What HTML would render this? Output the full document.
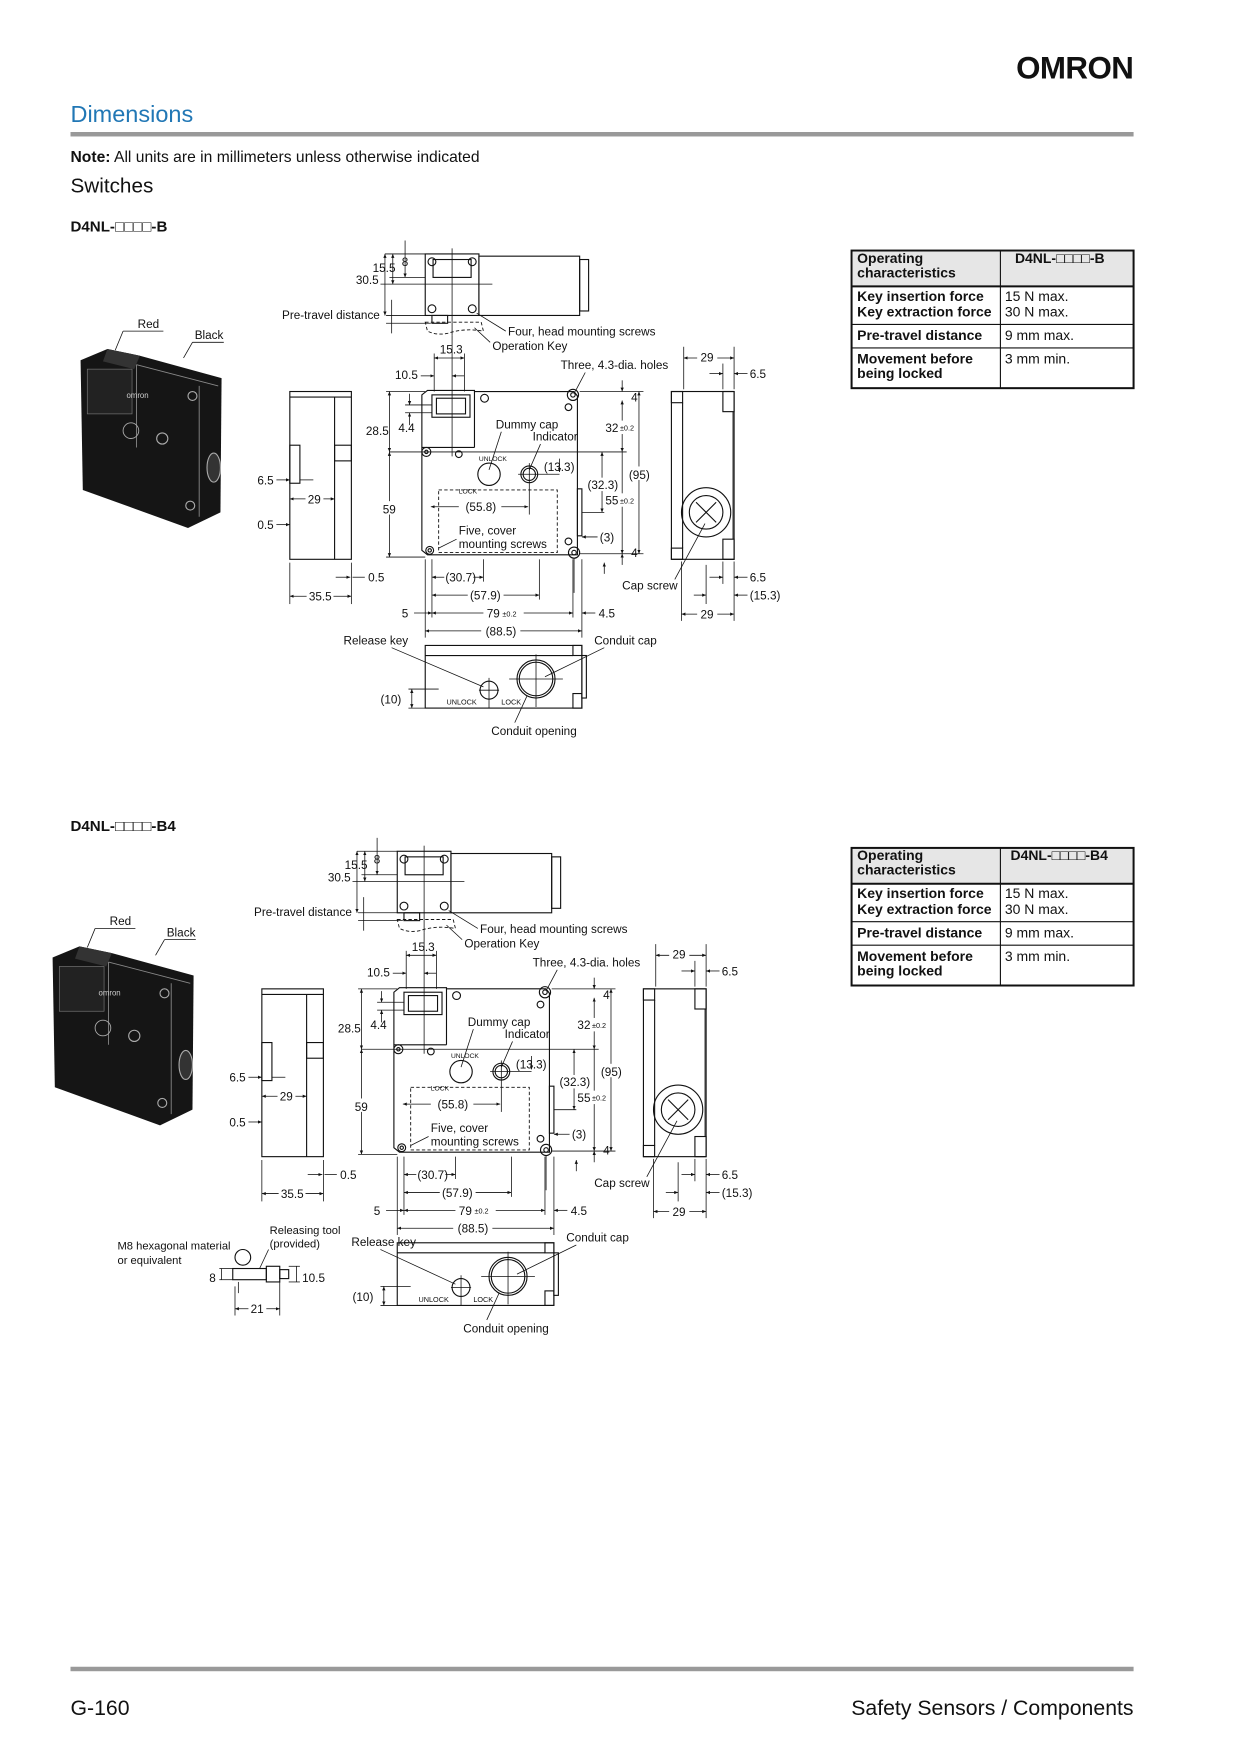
<!DOCTYPE html>
<html><head><meta charset="utf-8"><style>
html,body{margin:0;padding:0;background:#fff}
svg{display:block}
text{font-family:"Liberation Sans",sans-serif;fill:#111}
.d text{font-size:10.5px}
.ln{stroke:#111;stroke-width:1;fill:none}
.th{stroke:#111;stroke-width:0.7;fill:none}
.ds{stroke:#111;stroke-width:0.8;fill:none;stroke-dasharray:3 2}
</style></head><body>
<svg width="1241" height="1754" viewBox="0 0 1109 1568" preserveAspectRatio="none" xmlns="http://www.w3.org/2000/svg">
<defs>
<marker id="a" viewBox="0 0 6 6" refX="6" refY="3" markerWidth="5" markerHeight="5" orient="auto-start-reverse"><path d="M0,0.5 L6,3 L0,5.5z" fill="#111"/></marker>
<g id="diag" class="d">
 <!-- photo -->
 <polygon points="72,322 96,312 125,318 198,338 197,458 168,472 74,438" fill="#151515"/>
 <polygon points="96,312 125,318 120,330 92,323" fill="#333"/>
 <rect x="78" y="330" width="40" height="40" fill="#222" stroke="#777" stroke-width="0.6"/>
 <line x1="122" y1="326" x2="122" y2="400" stroke="#888" stroke-width="0.8"/>
 <line x1="122" y1="326" x2="195" y2="345" stroke="#888" stroke-width="0.8"/>
 <line x1="178" y1="345" x2="178" y2="462" stroke="#888" stroke-width="0.8"/>
 <text x="113" y="356" style="font-size:7px;fill:#ccc">omron</text>
 <circle cx="117" cy="385" r="7" fill="none" stroke="#aaa" stroke-width="0.8"/>
 <circle cx="145" cy="392" r="5" fill="none" stroke="#aaa" stroke-width="1"/>
 <ellipse cx="191" cy="418" rx="6" ry="13" fill="#333" stroke="#aaa" stroke-width="1"/>
 <circle cx="172" cy="354" r="4" fill="none" stroke="#aaa"/>
 <circle cx="170" cy="452" r="4" fill="none" stroke="#aaa"/>
 <text x="123" y="293">Red</text><line class="th" x1="110" y1="296" x2="146" y2="296"/><line class="th" x1="110" y1="296" x2="103" y2="313"/>
 <text x="174" y="303">Black</text><line class="th" x1="172" y1="306" x2="200" y2="306"/><line class="th" x1="172" y1="306" x2="164" y2="320"/>
 <!-- top view -->
 <rect class="ln" x="380" y="227" width="48" height="55"/>
 <rect class="ln" x="428" y="229" width="90" height="53"/>
 <rect class="ln" x="518" y="232" width="8" height="46"/>
 <rect class="ln" x="387" y="232" width="34" height="16"/>
 <rect class="ln" x="386" y="282" width="14" height="7"/>
 <circle class="ln" cx="386" cy="234" r="3.5"/><circle class="ln" cx="422" cy="234" r="3.5"/>
 <circle class="ln" cx="386" cy="276" r="3.5"/><circle class="ln" cx="422" cy="276" r="3.5"/>
 <path class="ds" d="M380,288 L430,288 L432,296 Q415,293 400,298 Q390,300 382,296 Z"/>
 <line class="th" x1="404" y1="222" x2="404" y2="300"/>
 <line class="th" x1="344" y1="227" x2="380" y2="227"/><line class="th" x1="348" y1="248" x2="380" y2="248"/><line class="th" x1="340" y1="254" x2="440" y2="254"/>
 <line class="th" x1="362" y1="215" x2="362" y2="248" marker-end="url(#a)"/>
 <line class="th" x1="351" y1="227" x2="351" y2="254" marker-start="url(#a)" marker-end="url(#a)"/>
 <line class="th" x1="344" y1="227" x2="344" y2="282" marker-start="url(#a)" marker-end="url(#a)"/>
 <text x="359" y="238">8</text><text x="333" y="243">15.5</text><text x="318" y="254">30.5</text>
 <line class="th" x1="345" y1="282" x2="385" y2="282"/><line class="th" x1="345" y1="289" x2="385" y2="289"/>
 <line class="th" x1="350" y1="268" x2="350" y2="298"/>
 <text x="252" y="285">Pre-travel distance</text>
 <line class="th" x1="426" y1="280" x2="452" y2="296"/><text x="454" y="300">Four, head mounting screws</text>
 <line class="th" x1="424" y1="293" x2="438" y2="306"/><text x="440" y="313">Operation Key</text>
 <!-- left side view -->
 <rect class="ln" x="259" y="350" width="55" height="150"/>
 <line class="ln" x1="259" y1="355" x2="314" y2="355"/>
 <line class="ln" x1="299" y1="355" x2="299" y2="500"/>
 <rect class="ln" x="299" y="398" width="15" height="14"/>
 <rect class="ln" x="259" y="398" width="9" height="34"/>
 <line class="th" x1="247" y1="429" x2="259" y2="429" marker-end="url(#a)"/><line class="th" x1="268" y1="429" x2="280" y2="429"/>
 <text x="230" y="433">6.5</text>
 <line class="th" x1="259" y1="446" x2="299" y2="446" marker-start="url(#a)" marker-end="url(#a)"/>
 <rect x="273" y="440" width="16" height="12" fill="#fff"/><text x="275" y="450">29</text>
 <line class="th" x1="247" y1="469" x2="259" y2="469" marker-end="url(#a)"/><text x="230" y="473">0.5</text>
 <line class="th" x1="259" y1="503" x2="259" y2="540"/><line class="th" x1="314" y1="503" x2="314" y2="540"/>
 <line class="th" x1="300" y1="516" x2="313" y2="516" marker-end="url(#a)"/><line class="th" x1="326" y1="516" x2="315" y2="516"/>
 <text x="329" y="520">0.5</text>
 <line class="th" x1="259" y1="533" x2="314" y2="533" marker-start="url(#a)" marker-end="url(#a)"/>
 <rect x="274" y="527" width="24" height="12" fill="#fff"/><text x="276" y="537">35.5</text>
 <!-- front view -->
 <path class="ln" d="M382,349 L424,349 L424,350 L513,350 L516,354 L516,496 L382,496 L377,492 L377,353 Z"/>
 <line class="ln" x1="424" y1="350" x2="424" y2="400"/>
 <line class="ln" x1="377" y1="400" x2="424" y2="400"/>
 <rect class="ln" x="386" y="353" width="34" height="20"/>
 <rect class="ln" x="390" y="356" width="26" height="14"/>
 <line class="th" x1="404" y1="300" x2="404" y2="408"/>
 <circle class="ln" cx="512" cy="353" r="5"/><circle class="ln" cx="512" cy="353" r="2"/>
 <circle class="ln" cx="381" cy="404" r="4"/><circle class="ln" cx="381" cy="404" r="1.5"/>
 <circle class="ln" cx="513" cy="494" r="5"/><circle class="ln" cx="513" cy="494" r="2"/>
 <circle class="ln" cx="384" cy="492" r="3.5"/><circle class="ln" cx="384" cy="492" r="1.5"/>
 <circle class="ln" cx="433" cy="356" r="3.5"/><circle class="ln" cx="508" cy="364" r="3"/>
 <circle class="ln" cx="410" cy="406" r="3"/><circle class="ln" cx="508" cy="484" r="3"/>
 <circle class="ln" cx="437" cy="424" r="10"/>
 <circle class="ln" cx="473" cy="424" r="7.5"/><circle class="ln" cx="473" cy="424" r="5.5"/>
 <line class="th" x1="463" y1="424" x2="500" y2="424"/><line class="th" x1="473" y1="414" x2="473" y2="460"/>
 <rect class="ds" x="392" y="438" width="106" height="56"/>
 <rect class="ln" x="516" y="437" width="4" height="42"/>
 <text x="428" y="412" style="font-size:6px">UNLOCK</text><text x="410" y="441" style="font-size:6px">LOCK</text>
 <text x="443" y="383">Dummy cap</text><line class="th" x1="448" y1="386" x2="437" y2="420"/>
 <text x="476" y="394">Indicator</text><line class="th" x1="483" y1="397" x2="473" y2="420"/>
 <line class="th" x1="500" y1="410" x2="500" y2="422" marker-end="url(#a)"/><text x="486" y="421">(13.3)</text>
 <line class="th" x1="385" y1="453" x2="410" y2="453" marker-start="url(#a)"/><line class="th" x1="448" y1="453" x2="472" y2="453" marker-end="url(#a)"/>
 <text x="416" y="457">(55.8)</text>
 <text x="410" y="478">Five, cover</text><text x="410" y="490">mounting screws</text>
 <line class="th" x1="408" y1="482" x2="392" y2="490"/>
 <text x="501" y="330">Three, 4.3-dia. holes</text><line class="th" x1="523" y1="333" x2="514" y2="350"/>
 <!-- front right dims -->
 <line class="th" x1="518" y1="350" x2="575" y2="350"/><line class="th" x1="348" y1="404" x2="560" y2="404"/><line class="th" x1="518" y1="495" x2="575" y2="495"/>
 <line class="th" x1="556" y1="340" x2="556" y2="350" marker-end="url(#a)"/><line class="th" x1="556" y1="358" x2="556" y2="404" marker-start="url(#a)" marker-end="url(#a)"/>
 <line class="th" x1="556" y1="404" x2="556" y2="495" marker-end="url(#a)"/>
 <line class="th" x1="556" y1="505" x2="556" y2="495" marker-end="url(#a)"/>
 <line class="th" x1="571" y1="350" x2="571" y2="495" marker-start="url(#a)" marker-end="url(#a)"/>
 <rect x="560" y="417" width="22" height="12" fill="#fff"/><text x="562" y="428">(95)</text>
 <text x="564" y="359">4</text><text x="564" y="498">4</text>
 <rect x="540" y="376" width="28" height="12" fill="#fff"/><text x="541" y="386">32</text><text x="554" y="385" style="font-size:6.5px">±0.2</text>
 <line class="th" x1="520" y1="458" x2="540" y2="458"/>
 <line class="th" x1="538" y1="404" x2="538" y2="458" marker-start="url(#a)" marker-end="url(#a)"/>
 <rect x="524" y="427" width="30" height="12" fill="#fff"/><text x="525" y="437">(32.3)</text>
 <rect x="540" y="441" width="30" height="12" fill="#fff"/><text x="541" y="451">55</text><text x="554" y="450" style="font-size:6.5px">±0.2</text>
 <line class="th" x1="534" y1="480" x2="520" y2="480" marker-end="url(#a)"/><text x="536" y="484">(3)</text>
 <!-- front left dims -->
 <line class="th" x1="345" y1="350" x2="380" y2="350"/><line class="th" x1="345" y1="498" x2="380" y2="498"/>
 <line class="th" x1="348" y1="350" x2="348" y2="404" marker-start="url(#a)" marker-end="url(#a)"/>
 <line class="th" x1="348" y1="404" x2="348" y2="498" marker-start="url(#a)" marker-end="url(#a)"/>
 <text x="327" y="389">28.5</text><rect x="340" y="448" width="14" height="12" fill="#fff"/><text x="342" y="459">59</text>
 <line class="th" x1="362" y1="362" x2="386" y2="362"/><line class="th" x1="362" y1="369" x2="386" y2="369"/>
 <line class="th" x1="366" y1="352" x2="366" y2="362" marker-end="url(#a)"/><line class="th" x1="366" y1="380" x2="366" y2="369" marker-end="url(#a)"/>
 <text x="356" y="386">4.4</text>
 <line class="th" x1="388" y1="316" x2="388" y2="350"/><line class="th" x1="415" y1="316" x2="415" y2="350"/>
 <line class="th" x1="388" y1="320" x2="415" y2="320" marker-start="url(#a)" marker-end="url(#a)"/><text x="393" y="316">15.3</text>
 <line class="th" x1="376" y1="336" x2="388" y2="336" marker-end="url(#a)"/><line class="th" x1="415" y1="336" x2="404" y2="336" marker-end="url(#a)"/>
 <text x="353" y="339">10.5</text>
 <!-- front bottom dims -->
 <line class="th" x1="380" y1="500" x2="380" y2="570"/><line class="th" x1="386" y1="500" x2="386" y2="552"/>
 <line class="th" x1="432" y1="500" x2="432" y2="520"/><line class="th" x1="482" y1="500" x2="482" y2="536"/>
 <line class="th" x1="512" y1="500" x2="512" y2="552"/><line class="th" x1="520" y1="500" x2="520" y2="570"/>
 <line class="th" x1="386" y1="516" x2="397" y2="516" marker-start="url(#a)"/><line class="th" x1="423" y1="516" x2="432" y2="516" marker-end="url(#a)"/><text x="398" y="520">(30.7)</text>
 <line class="th" x1="386" y1="532" x2="418" y2="532" marker-start="url(#a)"/><line class="th" x1="450" y1="532" x2="482" y2="532" marker-end="url(#a)"/><text x="420" y="536">(57.9)</text>
 <line class="th" x1="370" y1="548" x2="386" y2="548" marker-end="url(#a)"/><text x="359" y="552">5</text>
 <line class="th" x1="386" y1="548" x2="432" y2="548" marker-start="url(#a)"/><line class="th" x1="468" y1="548" x2="512" y2="548" marker-end="url(#a)"/>
 <text x="435" y="552">79</text><text x="449" y="551" style="font-size:6.5px">±0.2</text>
 <line class="th" x1="532" y1="548" x2="520" y2="548" marker-end="url(#a)"/><text x="535" y="552">4.5</text>
 <line class="th" x1="380" y1="564" x2="430" y2="564" marker-start="url(#a)"/><line class="th" x1="465" y1="564" x2="520" y2="564" marker-end="url(#a)"/><text x="434" y="568">(88.5)</text>
 <line class="th" x1="513" y1="499" x2="513" y2="530"/><line class="th" x1="540" y1="513" x2="540" y2="503" marker-end="url(#a)"/>
 <!-- right side view -->
 <rect class="ln" x="600" y="350" width="56" height="150"/>
 <rect class="ln" x="600" y="350" width="10" height="10"/><rect class="ln" x="600" y="490" width="10" height="10"/>
 <line class="ln" x1="610" y1="360" x2="610" y2="490"/>
 <rect class="ln" x="646" y="350" width="10" height="18"/><rect class="ln" x="646" y="482" width="10" height="18"/>
 <line class="th" x1="655" y1="368" x2="655" y2="482"/>
 <circle class="ln" cx="631" cy="458" r="22"/><circle class="ln" cx="631" cy="458" r="15"/>
 <path class="ln" d="M622,449 L640,467 M640,449 L622,467"/>
 <line class="th" x1="611" y1="310" x2="611" y2="348"/><line class="th" x1="656" y1="310" x2="656" y2="348"/>
 <line class="th" x1="611" y1="320" x2="656" y2="320" marker-start="url(#a)" marker-end="url(#a)"/><rect x="623" y="314" width="18" height="12" fill="#fff"/><text x="626" y="323">29</text>
 <line class="th" x1="646" y1="325" x2="646" y2="348"/>
 <line class="th" x1="634" y1="334" x2="646" y2="334" marker-end="url(#a)"/><line class="th" x1="668" y1="334" x2="656" y2="334" marker-end="url(#a)"/><text x="670" y="338">6.5</text>
 <line class="th" x1="609" y1="502" x2="609" y2="555"/><line class="th" x1="656" y1="502" x2="656" y2="555"/><line class="th" x1="646" y1="502" x2="646" y2="522"/><line class="th" x1="631" y1="505" x2="631" y2="540"/>
 <line class="th" x1="634" y1="516" x2="646" y2="516" marker-end="url(#a)"/><line class="th" x1="668" y1="516" x2="656" y2="516" marker-end="url(#a)"/><text x="670" y="520">6.5</text>
 <line class="th" x1="620" y1="532" x2="631" y2="532" marker-end="url(#a)"/><line class="th" x1="668" y1="532" x2="656" y2="532" marker-end="url(#a)"/><text x="670" y="536">(15.3)</text>
 <line class="th" x1="609" y1="549" x2="656" y2="549" marker-start="url(#a)" marker-end="url(#a)"/><rect x="623" y="543" width="18" height="12" fill="#fff"/><text x="626" y="553">29</text>
 <text x="556" y="527">Cap screw</text><line class="th" x1="603" y1="518" x2="630" y2="468"/>
 <!-- bottom view -->
 <rect class="ln" x="380" y="577" width="140" height="56"/>
 <line class="ln" x1="380" y1="586" x2="512" y2="586"/><rect class="ln" x="512" y="577" width="8" height="9"/><rect class="ln" x="512" y="620" width="8" height="13"/>
 <rect class="ln" x="520" y="586" width="4" height="38"/>
 <circle class="ln" cx="479" cy="607" r="17"/><circle class="ln" cx="479" cy="607" r="15"/>
 <line class="th" x1="455" y1="607" x2="503" y2="607"/><line class="th" x1="479" y1="585" x2="479" y2="632"/>
 <circle class="ln" cx="437" cy="617" r="8"/><line class="th" x1="428" y1="617" x2="446" y2="617"/><line class="th" x1="437" y1="606" x2="437" y2="633"/>
 <text x="399" y="630" style="font-size:6.5px">UNLOCK</text><text x="448" y="630" style="font-size:6.5px">LOCK</text>
 <text x="531" y="576">Conduit cap</text><line class="th" x1="540" y1="579" x2="487" y2="605"/>
 <text x="439" y="657">Conduit opening</text><line class="th" x1="460" y1="646" x2="471" y2="622"/>
 <line class="th" x1="365" y1="616" x2="392" y2="616"/><line class="th" x1="365" y1="633" x2="380" y2="633"/>
 <line class="th" x1="368" y1="616" x2="368" y2="633" marker-start="url(#a)" marker-end="url(#a)"/><text x="340" y="629">(10)</text>
</g>
</defs>

<text x="908" y="70" style="font-size:28px;font-weight:bold;letter-spacing:-0.5px">OMRON</text>
<text x="63" y="109" style="font-size:21px;fill:#2177b5">Dimensions</text>
<rect x="63" y="118" width="950" height="4" fill="#999"/>
<text x="63" y="145" style="font-size:14px"><tspan font-weight="bold">Note:</tspan> All units are in millimeters unless otherwise indicated</text>
<text x="63" y="172" style="font-size:18.5px">Switches</text>
<text x="63" y="207" style="font-size:13.5px;font-weight:bold">D4NL-□□□□-B</text>

<use href="#diag"/>
<g class="d"><text x="307" y="576">Release key</text><line class="th" x1="350" y1="579" x2="432" y2="614"/></g>
<g transform="translate(-25,534)"><use href="#diag"/></g>
<g class="d"><text x="314" y="1114">Release key</text><line class="th" x1="340" y1="1117" x2="407" y2="1148"/></g>
<text x="63" y="743" style="font-size:13.5px;font-weight:bold">D4NL-□□□□-B4</text>

<!-- tables -->
<g style="font-size:12.5px">
 <rect x="761" y="224" width="252" height="123" fill="#fff" stroke="#111" stroke-width="1.8"/>
 <rect x="762" y="225" width="250" height="31" fill="#e6e6e6"/>
 <line x1="761" y1="256" x2="1013" y2="256" stroke="#111" stroke-width="1.8"/>
 <line x1="761" y1="290" x2="1013" y2="290" stroke="#111" stroke-width="1"/>
 <line x1="761" y1="311" x2="1013" y2="311" stroke="#111" stroke-width="1"/>
 <line x1="894" y1="224" x2="894" y2="347" stroke="#111" stroke-width="1"/>
 <text x="766" y="235" font-weight="bold">Operating</text><text x="766" y="248" font-weight="bold">characteristics</text>
 <text x="907" y="235" font-weight="bold">D4NL-□□□□-B</text>
 <text x="766" y="269" font-weight="bold">Key insertion force</text><text x="766" y="283" font-weight="bold">Key extraction force</text>
 <text x="898" y="269">15 N max.</text><text x="898" y="283">30 N max.</text>
 <text x="766" y="304" font-weight="bold">Pre-travel distance</text><text x="898" y="304">9 mm max.</text>
 <text x="766" y="325" font-weight="bold">Movement before</text><text x="766" y="338" font-weight="bold">being locked</text><text x="898" y="325">3 mm min.</text>
</g>
<g style="font-size:12.5px" transform="translate(0,534)">
 <rect x="761" y="224" width="252" height="123" fill="#fff" stroke="#111" stroke-width="1.8"/>
 <rect x="762" y="225" width="250" height="31" fill="#e6e6e6"/>
 <line x1="761" y1="256" x2="1013" y2="256" stroke="#111" stroke-width="1.8"/>
 <line x1="761" y1="290" x2="1013" y2="290" stroke="#111" stroke-width="1"/>
 <line x1="761" y1="311" x2="1013" y2="311" stroke="#111" stroke-width="1"/>
 <line x1="894" y1="224" x2="894" y2="347" stroke="#111" stroke-width="1"/>
 <text x="766" y="235" font-weight="bold">Operating</text><text x="766" y="248" font-weight="bold">characteristics</text>
 <text x="903" y="235" font-weight="bold">D4NL-□□□□-B4</text>
 <text x="766" y="269" font-weight="bold">Key insertion force</text><text x="766" y="283" font-weight="bold">Key extraction force</text>
 <text x="898" y="269">15 N max.</text><text x="898" y="283">30 N max.</text>
 <text x="766" y="304" font-weight="bold">Pre-travel distance</text><text x="898" y="304">9 mm max.</text>
 <text x="766" y="325" font-weight="bold">Movement before</text><text x="766" y="338" font-weight="bold">being locked</text><text x="898" y="325">3 mm min.</text>
</g>

<!-- releasing tool -->
<g class="d">
 <text x="105" y="1117" style="font-size:10px">M8 hexagonal material</text><text x="105" y="1130" style="font-size:10px">or equivalent</text>
 <text x="241" y="1103" style="font-size:10px">Releasing tool</text><text x="241" y="1115" style="font-size:10px">(provided)</text>
 <circle class="ln" cx="217" cy="1124" r="7"/>
 <rect class="ln" x="208" y="1134" width="30" height="10"/><rect class="ln" x="238" y="1132" width="12" height="14"/><rect class="ln" x="250" y="1135" width="8" height="8"/>
 <line class="th" x1="213" y1="1146" x2="213" y2="1156"/><line class="th" x1="250" y1="1146" x2="250" y2="1176"/><line class="th" x1="210" y1="1150" x2="210" y2="1176"/>
 <line class="th" x1="196" y1="1134" x2="208" y2="1134"/><line class="th" x1="196" y1="1144" x2="208" y2="1144"/>
 <line class="th" x1="198" y1="1134" x2="198" y2="1144"/><text x="187" y="1146">8</text>
 <line class="th" x1="258" y1="1132" x2="268" y2="1132"/><line class="th" x1="258" y1="1146" x2="268" y2="1146"/>
 <line class="th" x1="265" y1="1132" x2="265" y2="1146"/><text x="270" y="1146">10.5</text>
 <line class="th" x1="210" y1="1170" x2="250" y2="1170" marker-start="url(#a)" marker-end="url(#a)"/><rect x="222" y="1164" width="16" height="12" fill="#fff"/><text x="224" y="1174">21</text>
 <line class="th" x1="240" y1="1117" x2="232" y2="1134"/>
</g>

<rect x="63" y="1490" width="950" height="4" fill="#999"/>
<text x="63" y="1533" style="font-size:19px">G-160</text>
<text x="1013" y="1533" text-anchor="end" style="font-size:19px">Safety Sensors / Components</text>
</svg>
</body></html>
